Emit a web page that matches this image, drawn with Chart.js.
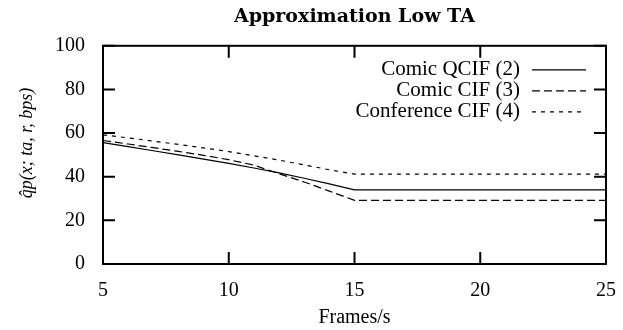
<!DOCTYPE html>
<html>
<head>
<meta charset="utf-8">
<script src="https://cdn.jsdelivr.net/npm/chart.js@4/dist/chart.umd.min.js"></script>
<style>
  html, body { margin: 0; padding: 0; background: #fff; }
  #wrap { width: 623px; height: 330px; }
</style>
</head>
<body>
<div id="wrap"><canvas id="chart" width="623" height="330"></canvas></div>
<script>
// ---- data ----
const frames = [5, 6, 7, 8, 9, 10, 11, 12, 13, 14, 15, 16, 17, 18, 19, 20, 21, 22, 23, 24, 25];
const comicQcif = [55.6, 53.8, 51.9, 50, 48.1, 46.1, 44, 41.8, 39.3, 36.7, 34, 34, 34, 34, 34, 34, 34, 34, 34, 34, 34];
const comicCif = [56.6, 55, 53.3, 51.6, 49.8, 47.8, 45.3, 41.4, 37.6, 33.4, 29.2, 29.2, 29.2, 29.2, 29.2, 29.2, 29.2, 29.2, 29.2, 29.2, 29.2];
const conferenceCif = [59.2, 57.8, 56.3, 54.8, 53.2, 51.5, 49.6, 47.6, 45.4, 43.2, 41.2, 41.2, 41.2, 41.2, 41.2, 41.2, 41.2, 41.2, 41.2, 41.2, 41.2];
const seriesLabels = ["Comic QCIF (2)", "Comic CIF (3)", "Conference CIF (4)"];
const xTicks = [5, 10, 15, 20, 25];
const yTicks = [0, 20, 40, 60, 80, 100];

const SERIF = "'Liberation Serif', 'DejaVu Serif', serif";

const toPoints = vals => vals.map((v, i) => ({ x: frames[i], y: v }));

// Frame around the plot + inward tick marks on all four sides
const framePlugin = {
  id: "frame",
  afterDraw(chart) {
    const { ctx, chartArea: a, scales } = chart;
    ctx.save();
    ctx.strokeStyle = "#000";
    ctx.lineWidth = 2;
    ctx.strokeRect(a.left, a.top, a.right - a.left, a.bottom - a.top);
    const len = 12;
    ctx.beginPath();
    xTicks.forEach(v => {
      const px = scales.x.getPixelForValue(v);
      ctx.moveTo(px, a.bottom); ctx.lineTo(px, a.bottom - len);
      ctx.moveTo(px, a.top); ctx.lineTo(px, a.top + len);
    });
    yTicks.forEach(v => {
      const py = scales.y.getPixelForValue(v);
      ctx.moveTo(a.left, py); ctx.lineTo(a.left + len, py);
      ctx.moveTo(a.right, py); ctx.lineTo(a.right - len, py);
    });
    ctx.stroke();

    // y axis title (rotated)
    ctx.fillStyle = "#000";
    ctx.font = "italic 18px " + SERIF;
    ctx.textAlign = "center";
    ctx.textBaseline = "middle";
    ctx.translate(27, (a.top + a.bottom) / 2 - 12);
    ctx.rotate(-Math.PI / 2);
    ctx.fillText("q\u0302p(x; ta, r, bps)", 0, 0);
    ctx.restore();
  }
};

// gnuplot-style key: right-aligned text followed by line sample
const keyPlugin = {
  id: "key",
  afterDraw(chart) {
    const { ctx, chartArea: a } = chart;
    const sampleEnd = a.right - 20;
    const sampleStart = sampleEnd - 54;
    ctx.save();
    ctx.font = "21px " + SERIF;
    ctx.textAlign = "right";
    ctx.textBaseline = "middle";
    ctx.fillStyle = "#000";
    chart.data.datasets.forEach((ds, i) => {
      const y = a.top + 24 + i * 21;
      ctx.fillText(ds.label, sampleStart - 12, y);
      ctx.beginPath();
      ctx.setLineDash(ds.borderDash || []);
      ctx.lineWidth = ds.borderWidth;
      ctx.strokeStyle = ds.borderColor;
      ctx.moveTo(sampleStart, y);
      ctx.lineTo(sampleEnd, y);
      ctx.stroke();
    });
    ctx.restore();
  }
};

new Chart(document.getElementById("chart"), {
  type: "line",
  data: {
    datasets: [
      { label: seriesLabels[0], data: toPoints(comicQcif), borderColor: "#000", borderWidth: 1.2, borderDash: [] },
      { label: seriesLabels[1], data: toPoints(comicCif), borderColor: "#000", borderWidth: 1.2, borderDash: [8, 4] },
      { label: seriesLabels[2], data: toPoints(conferenceCif), borderColor: "#000", borderWidth: 1.2, borderDash: [4, 5] }
    ]
  },
  options: {
    responsive: false,
    animation: false,
    layout: { padding: { left: 0, right: 16, top: 0, bottom: 0 } },
    elements: { point: { radius: 0 }, line: { tension: 0 } },
    plugins: {
      legend: { display: false },
      tooltip: { enabled: false },
      title: {
        display: true,
        fullSize: false,
        text: "Approximation Low TA",
        color: "#000",
        font: { family: "'DejaVu Serif', serif", size: 19, weight: "bold" },
        padding: { top: 6, bottom: 17 }
      }
    },
    scales: {
      x: {
        type: "linear",
        min: 5, max: 25,
        grid: { display: false },
        border: { display: false },
        afterBuildTicks: s => { s.ticks = xTicks.map(v => ({ value: v })); },
        afterFit: s => { s.height = 66; },
        ticks: { color: "#000", padding: 7, maxRotation: 0, font: { family: SERIF, size: 20 } },
        title: {
          display: true,
          text: "Frames/s",
          color: "#000",
          font: { family: SERIF, size: 20 },
          padding: { top: 4, bottom: 0 }
        }
      },
      y: {
        min: 0, max: 100,
        grid: { display: false },
        border: { display: false },
        afterBuildTicks: s => { s.ticks = yTicks.map(v => ({ value: v })); },
        afterFit: s => { s.width = 103; },
        ticks: { color: "#000", padding: 10, font: { family: SERIF, size: 20 } }
      }
    }
  },
  plugins: [framePlugin, keyPlugin]
});
</script>
</body>
</html>
